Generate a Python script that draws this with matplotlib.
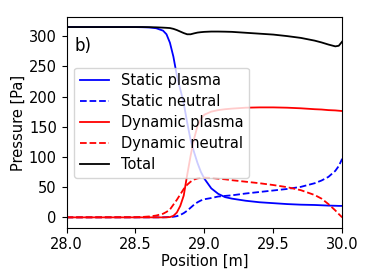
import numpy as np
import matplotlib
matplotlib.use('Agg')
import matplotlib.pyplot as plt

plt.rcParams['font.family'] = ['DejaVu Sans']

# positions along the divertor leg [m]
position = [28.0, 28.5, 28.55, 28.6, 28.65, 28.7, 28.725, 28.75, 28.775, 28.8,
            28.825, 28.85, 28.875, 28.9, 28.925, 28.95, 28.975, 29.0, 29.05, 29.1,
            29.15, 29.2, 29.3, 29.4, 29.5, 29.6, 29.7, 29.8, 29.85, 29.9,
            29.95, 29.975, 30.0]

# pressures [Pa]
static_plasma = [315, 314.9, 314.7, 314.3, 313, 309, 303, 289, 266, 235,
                 212, 189, 157, 128, 108, 90, 75, 64, 48, 39,
                 33.5, 31, 27.5, 25, 23.5, 22, 21, 20.5, 20, 19.5,
                 19.2, 19, 19]
static_neutral = [0, 0, 0, 0, 0, 0.1, 0.3, 0.6, 1, 2,
                  4, 7, 11, 16, 21, 25, 28, 30, 32, 34.5,
                  35.5, 36.5, 39.5, 42, 44.5, 47, 50.5, 56.5, 61, 67,
                  77, 85, 97]
dynamic_plasma = [0, 0, 0, 0, 0, 0, 0.1, 0.5, 2.5, 8,
                  19, 36, 70, 102, 130, 151, 163, 170, 175, 177.5,
                  179, 180, 181.5, 182, 182, 181.5, 180.5, 179, 178.5, 177.5,
                  177, 176.5, 176]
dynamic_neutral = [0, 0.3, 0.7, 1.5, 3, 6, 9, 13, 21, 29,
                   38, 47, 54, 59, 62.5, 64.5, 65.5, 65.8, 65.3, 64,
                   63, 61.5, 59, 56.5, 53.5, 50, 45, 37, 31, 22,
                   11.5, 5.5, 0]
total = [315, 315, 315, 314.8, 314.5, 314, 313.7, 313.3, 312, 310,
         307.5, 305, 303, 303, 304.5, 305.8, 306.5, 307, 307.5, 307.5,
         307.3, 307, 305.5, 304, 302.5, 300, 297, 292.5, 289.5, 286,
         283, 284, 291]

fig = plt.figure(figsize=(3.74, 2.8), dpi=100)
ax = fig.add_axes([0.178, 0.187, 0.737, 0.751])

lw = 1.3
ax.plot(position, static_plasma, 'b-', lw=lw, label='Static plasma')
ax.plot(position, static_neutral, 'b--', lw=lw, label='Static neutral')
ax.plot(position, dynamic_plasma, 'r-', lw=lw, label='Dynamic plasma')
ax.plot(position, dynamic_neutral, 'r--', lw=lw, label='Dynamic neutral')
ax.plot(position, total, 'k-', lw=lw, label='Total')

fs = 10.5
ax.set_xlim(28.0, 30.0)
ax.set_ylim(-17, 331)
ax.set_xticks([28.0, 28.5, 29.0, 29.5, 30.0])
ax.set_yticks([0, 50, 100, 150, 200, 250, 300])
ax.tick_params(labelsize=fs)
ax.set_xlabel('Position [m]', fontsize=fs, labelpad=1)
ax.set_ylabel('Pressure [Pa]', fontsize=fs, labelpad=2)
ax.text(0.03, 0.84, 'b)', transform=ax.transAxes, fontsize=12)
ax.legend(loc='center left', fontsize=fs, labelspacing=0.4)

fig.savefig('out.png', dpi=100)
